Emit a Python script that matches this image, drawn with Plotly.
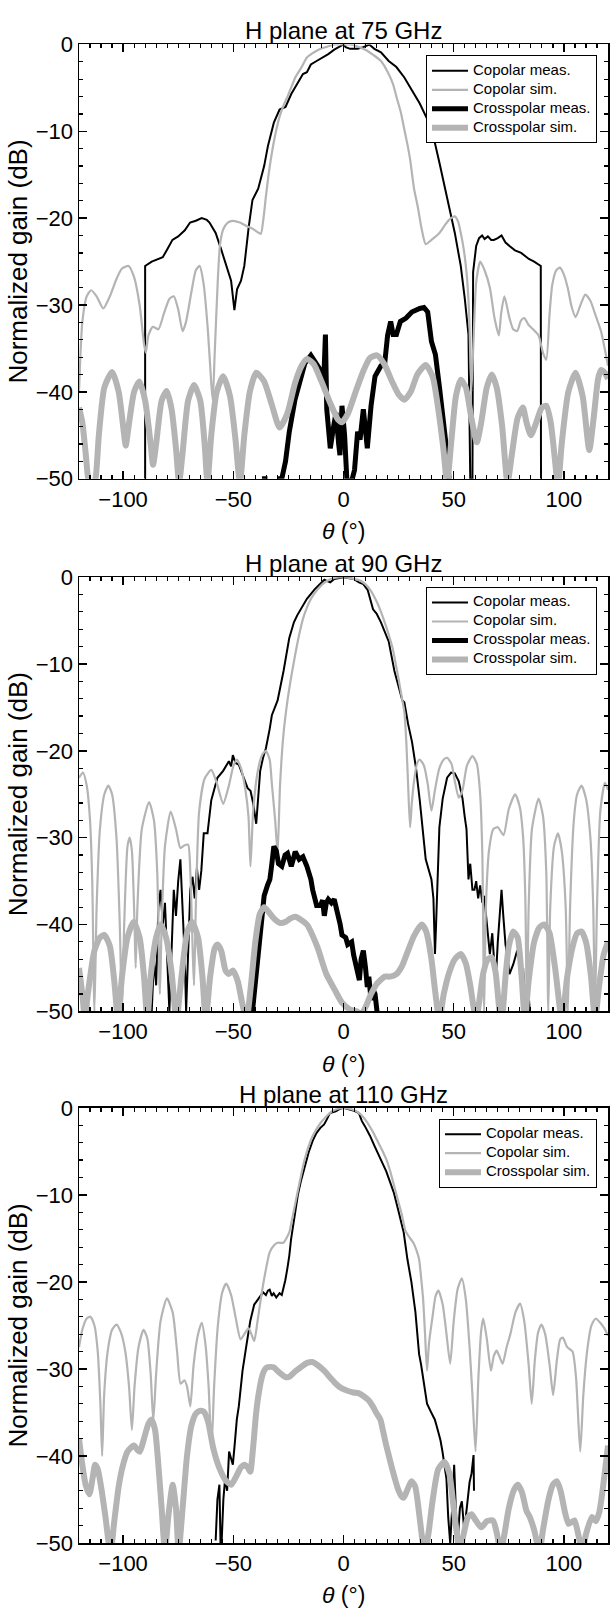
import plotly.graph_objects as go

# ---------------- data (theta in degrees, gain in dB) ----------------
# Panel 1 : H plane at 75 GHz
p1_copol_meas = [(-90,-50),(-90,-25.5),(-87,-25.0),(-84,-24.7),(-82,-24.5),(-80,-23.6),(-77.6,-22.5),(-75,-22.1),
    (-72,-21.4),(-69.6,-20.5),(-67,-20.3),(-64.3,-20.0),(-62,-20.2),(-60.8,-20.5),(-58,-21.7),(-55.5,-23.6),
    (-53,-25.6),(-51,-27.2),(-49.5,-30.6),(-48.3,-28.2),(-46.5,-27.2),(-45,-25.5),(-43,-21),(-41.3,-17.9),
    (-38.7,-16.6),(-36,-14),(-34.3,-11.7),(-31.6,-9),(-29,-7.5),(-26.3,-7.2),(-23.7,-5.7),(-21,-4.5),
    (-18.4,-3.4),(-16.6,-3.2),(-14.8,-2.3),(-12.2,-1.9),(-9.5,-1.5),(-6.9,-1.1),(-4.2,-0.6),(-1.6,-0.2),
    (0,0),(1,-0.3),(3,-0.5),(6.4,-0.5),(9,-0.3),(11.7,0),(14,-0.5),(17,-0.9),(20.5,-1.9),(24,-2.6),
    (27.6,-3.8),(31.1,-5.3),(34.6,-6.8),(38.2,-8.7),(40.8,-10.6),(43.5,-13.6),(46.1,-16.6),(48,-18.5),
    (50.5,-21.7),(53.2,-25.5),(55,-29.2),(56.7,-33.4),(57.5,-50),(58.5,-50),(58.8,-26.2),(60.2,-23.2),
    (61.5,-22.3),(62.9,-22),(64,-22.4),(65.5,-22.1),(67,-22.5),(68.2,-22.5),(70,-22.3),(71.7,-22),
    (73.5,-22.8),(75.3,-23.2),(77.8,-23.7),(80.6,-24),(82.5,-24.4),(84.1,-24.7),(86.5,-25),(88.5,-25.3),
    (89.5,-25.5),(89.6,-50)]
p1_copol_sim = [(-120,-40),(-118.5,-32),(-116.5,-29),(-114.5,-28.3),(-112,-29),(-109,-30.4),(-106,-29),
    (-103,-27),(-100.5,-25.8),(-97.5,-25.5),(-95,-26.8),(-92.5,-30),(-90.5,-34.5),(-89.7,-35.5),(-88.5,-33.5),
    (-86.5,-32.5),(-84,-32.8),(-81.5,-31),(-79,-29.3),(-77,-29),(-75,-30.5),(-73,-33),(-71.5,-32),(-69,-28.5),
    (-67,-26),(-65.3,-25.5),(-63.5,-27.5),(-61.5,-33),(-60,-39),(-59.3,-41),(-58.5,-36),(-57,-27),(-56,-23),
    (-54.6,-21.3),(-52.5,-20.5),(-50.2,-20.3),(-47,-20.5),(-44,-20.9),(-41.3,-21.2),(-39,-21.6),(-37.5,-21.8),
    (-36.3,-20),(-35.2,-17.5),(-34,-15),(-32.5,-12.5),(-30.8,-10.2),(-29,-8.3),(-27,-6.9),(-25.4,-6),
    (-23.5,-4.8),(-21.9,-3.8),(-19,-2.6),(-16.6,-1.5),(-14,-1.0),(-11.3,-0.6),(-8,-0.3),(-4.2,0),(0,0),
    (2.8,0),(6,-0.2),(9.9,-0.6),(13.5,-1.2),(17,-1.9),(20.5,-3.4),(22.5,-4.6),(24,-6),(26,-7.8),(27.6,-9.8),
    (29,-11.5),(30.2,-13.2),(32,-16.6),(33.7,-18.7),(35.5,-21.3),(37.3,-23),(39.9,-22.5),(43.5,-21.7),
    (46,-20.8),(47.9,-20.2),(50.5,-19.8),(52,-20.4),(53.2,-21.7),(54.5,-23.5),(55.8,-26.2),(57,-31),
    (58,-40),(59,-34),(60.2,-27.4),(62,-25),(64,-26),(66.4,-28),(68.5,-31.5),(70.5,-33.5),(71.5,-31),
    (73,-29),(75.3,-31.5),(77,-32.8),(78.8,-33),(80.5,-31.8),(82,-31.5),(84,-32.3),(86,-32.8),(88.5,-33.5),
    (90.5,-35.5),(92,-36.3),(93.5,-31),(94.7,-27.7),(96.5,-26),(98.2,-25.7),(100,-26.5),(101.8,-28.1),
    (103.5,-30.2),(105.3,-31.4),(107.5,-30),(109.7,-28.8),(112,-29.5),(114.1,-31),(116.8,-33),(118.5,-35),
    (120,-37)]
p1_xpol_meas = [(-37,-50),(-34.5,-50),(None,None),(-30,-50),(-28,-50),(-26.3,-48),(-24.6,-44.6),(-22,-40.9),
    (-19.3,-38.2),(-17.5,-36.7),(-14.8,-35.8),(-12.2,-36.7),(-10.4,-37.5),(-9,-39),(-8.2,-33.4),(-7.6,-42),
    (-6,-46.5),(-4.5,-44),(-3.4,-42.4),(-2.2,-46),(-1.6,-47.3),(-0.7,-41.6),(0.5,-45),(1.5,-50),(2.5,-50.5),
    (4,-50),(5,-49),(6.4,-44.6),(7.5,-45.5),(9,-42),(10.8,-46.5),(12.5,-41.6),(14.3,-38.2),(17,-37),
    (18.7,-36.7),(20,-33.5),(21.4,-31.9),(22.5,-33.4),(24,-33.4),(25.8,-31.9),(28.4,-31.5),(31,-30.8),
    (33,-30.5),(34.6,-30.4),(36.5,-30.3),(38.2,-30.8),(39.9,-34.2),(41.7,-35.7),(43.5,-39.4),(45.2,-42.8),
    (46.5,-46),(47.9,-50)]
p1_xpol_sim = [(-120,-41.8),(-118.5,-43.5),(-117,-47),(-115.5,-50.5),(-114,-51),(-112.5,-50),(-111,-45),
    (-108.5,-39.5),(-105,-37.7),(-102,-40),(-99.5,-45),(-98.8,-46.2),(-97.5,-44),(-95,-40),(-92.6,-38.8),
    (-90,-41),(-87.5,-46),(-86.4,-48.4),(-85,-46),(-82.5,-41),(-80.2,-39.9),(-78,-42),(-76,-46.5),
    (-74.6,-50.5),(-73,-47),(-70.5,-41),(-67.8,-39.2),(-65,-41),(-63,-46),(-61.7,-50.5),(-60,-45),
    (-57.5,-40),(-54.6,-38.2),(-51.5,-40.5),(-49,-45.5),(-47,-50.5),(-45,-45),(-42.5,-40),(-39.6,-37.8),
    (-36,-38.8),(-32.5,-41.5),(-29,-44.1),(-25.5,-42.5),(-22,-39),(-19,-37),(-16.6,-36.2),(-13.5,-36.8),
    (-10,-38.8),(-6,-41.3),(-2.5,-43.2),(-0.7,-43.5),(2,-42.5),(5.5,-40),(9,-37.6),(12,-36.1),(15.2,-35.8),
    (18.5,-36.8),(22,-38.8),(25,-40.3),(27.6,-40.9),(30.5,-40),(33.5,-38),(37.3,-36.9),(40.5,-38.3),
    (43,-42),(45.3,-46.5),(47,-50.5),(48.8,-46),(51,-40.5),(53.2,-38.6),(55.5,-39.5),(58,-43),(60.5,-45.8),
    (62.5,-43.5),(65,-39.5),(67.3,-38),(69.5,-39.5),(72,-44),(74.4,-50.5),(76.5,-47),(79,-43),(81.4,-41.8),
    (83,-43.5),(85,-45),(87.5,-43.5),(90,-41.8),(92,-41.6),(94,-43.5),(96,-48),(97.3,-51),(99,-46),
    (102,-40),(105.3,-37.8),(108.5,-40.5),(111.5,-46.7),(113.5,-43),(115.5,-38.5),(116.8,-37.5),
    (118.5,-37.8),(120,-38.5)]

# Panel 2 : H plane at 90 GHz
p2_copol_meas = [(-87,-50),(-86,-44),(-85,-47),(-84,-38),(-83,-36),(-82,-40),(-81,-37.5),(-80,-45),(-79,-50),
    (-78,-43),(-77,-36),(-76,-39),(-75,-35),(-74,-32.5),(-73,-38),(-72,-44),(-71.4,-50),(-70.5,-42),
    (-69.5,-36),(-68.5,-34.5),(-67.5,-37),(-66.5,-33.5),(-65.5,-36),(-64.5,-33.8),(-63.4,-29.5),
    (-61.7,-29.5),(-60,-25.7),(-57.2,-23.1),(-54.6,-22.3),(-52,-21.2),(-51,-21.8),(-50.2,-20.5),(-49,-21.4),
    (-47.5,-21.6),(-44.9,-23.5),(-43.5,-24.3),(-42.2,-24.6),(-41,-26),(-39.6,-28.4),(-38.5,-25),
    (-37.8,-22.3),(-36.5,-20.8),(-35.2,-19.7),(-33.5,-17.5),(-32.5,-15.9),(-29.9,-14.2),(-27.2,-10.8),
    (-24.6,-7),(-22.5,-5.2),(-21,-4.4),(-18.5,-3.4),(-16.6,-2.5),(-13.1,-1.4),(-10.5,-0.8),(-8.7,-0.3),
    (-6,-0.6),(-4.2,-0.2),(0,0),(4.6,-0.2),(7,-0.6),(9,-0.8),(11,-1.5),(13.4,-3.7),(15,-4.2),(17,-5.2),
    (20.5,-7.4),(23.1,-10.8),(26.7,-14.2),(27.6,-14.4),(29.3,-16.9),(31.1,-19),(32.9,-22),(34.6,-25.7),
    (37.3,-32.5),(39.9,-34.8),(40.8,-37),(41.5,-43.4),(42,-40),(43.5,-28.8),(45,-25.5),(47,-23.1),
    (48.8,-22.5),(50.5,-22.6),(52.3,-23.5),(54,-25.5),(55,-27.6),(55.8,-29),(56.7,-34.8),(57.5,-33),
    (58.5,-36),(59.4,-36),(60.2,-35),(61.1,-37),(62,-35.5),(63,-37.5),(63.8,-36.7),(65,-40),(66.4,-43.4),
    (67.5,-41),(68.2,-44),(69,-46.8),(70,-42),(71,-38),(71.7,-36),(72.5,-39),(73.5,-42.3),(74.5,-44),
    (75.3,-45.7),(77,-44.6),(78.8,-43),(79.7,-44),(80.6,-47.2),(81.5,-45),(82.3,-50),(83.5,-46),(84.5,-50)]
p2_copol_sim = [(-120,-23.1),(-118.2,-22.5),(-116.5,-24),(-115,-28),(-114,-35),(-113,-50),(-112,-38),
    (-110.5,-29),(-108.5,-25),(-106.7,-24),(-105,-25),(-103,-30),(-101.5,-40),(-100.5,-50),(-99.5,-40),
    (-98,-31),(-97,-30),(-96,-31.5),(-94.8,-40),(-94.3,-45),(-93.5,-38),(-91.5,-29),(-88.2,-25.9),(-86,-28),
    (-84.5,-34),(-83.3,-48),(-82.5,-40),(-81,-31),(-78.4,-27),(-76,-29),(-74,-31.2),(-72.3,-30.9),
    (-70.5,-30.8),(-69.5,-34),(-68.3,-44),(-67.8,-47),(-67,-38),(-65.5,-27),(-63,-23.2),(-60,-22.2),
    (-57.5,-23.7),(-54.6,-26.1),(-52,-24),(-50,-21.8),(-48.4,-21),(-46.5,-22),(-44.5,-24.5),(-43.1,-27.6),
    (-42.2,-33.3),(-41,-27),(-39,-22.5),(-37,-20.5),(-35.2,-20),(-33.5,-21),(-32.5,-23.8),(-31,-28),
    (-29.9,-31.8),(-28.8,-24),(-27.2,-18),(-25.4,-14.2),(-23.6,-11.3),(-21.9,-8.9),(-20,-6.5),(-18.4,-4.8),
    (-16.6,-3.5),(-14.8,-2.5),(-12,-1.5),(-9.5,-0.8),(-6.5,-0.3),(-4.2,-0.1),(0,0),(4.6,-0.2),(7.5,-0.4),
    (9.9,-0.8),(12.5,-1.6),(15.2,-2.9),(17,-4),(18.7,-5.2),(20.5,-6.6),(22.3,-8.2),(23.7,-10),(24.9,-11.6),
    (26.7,-14.2),(27.6,-15.5),(28.5,-19),(29.3,-23.8),(30.2,-28.8),(31,-26),(32,-23.5),(33.3,-21.5),
    (34.6,-21),(36.5,-21.7),(38.2,-23.8),(39.9,-26.9),(41.5,-24.5),(43.5,-22),(45.5,-21),(47,-20.8),
    (49,-21.5),(50.5,-23.5),(52.3,-25.4),(54,-24.5),(56,-21.7),(58.5,-20.6),(60.5,-21.5),(62,-25),(63,-32),
    (63.8,-50),(64.6,-38),(66,-31.5),(68,-29),(70,-28.8),(72.6,-29.7),(75,-26.7),(77.9,-25),(80,-26.5),
    (81.5,-30),(82.5,-37),(83.2,-50),(84,-38),(85.5,-29),(88.5,-25.5),(90.5,-27.5),(92,-34),(92.9,-50),
    (93.8,-38),(95.5,-31),(97.3,-29.5),(99,-31.5),(100.8,-38),(101.8,-50),(102.8,-38),(104.5,-28),
    (106,-25),(108,-24),(110,-25.5),(112,-30),(113.3,-38),(114.1,-50),(115,-38),(116.5,-27),(118.6,-23.7),
    (120,-24.5)]
p2_xpol_meas = [(-41.3,-50),(-40,-46.5),(-38.7,-43.8),(-37.2,-40),(-36,-36.7),(-34.5,-35.5),(-33.4,-34.8),
    (-32.5,-33),(-31.6,-31),(-30.5,-31.5),(-29.5,-33),(-28,-33.3),(-26.5,-32),(-25.4,-31.8),(-24.5,-33),
    (-23.7,-33.3),(-22.8,-32.5),(-21.9,-31.6),(-20.1,-32.5),(-18.4,-32.2),(-16.6,-33.3),(-14.8,-34.8),
    (-14,-36),(-12.2,-37.8),(-10.4,-37.8),(-9.5,-37.2),(-8.7,-39),(-7.8,-37.5),(-6.9,-37.1),(-5.5,-37.5),
    (-4.2,-37.1),(-3.3,-38),(-2.5,-39.3),(-1.5,-40),(-0.7,-41.2),(1,-41.5),(1.9,-42.3),(3.7,-42),
    (4.6,-43.5),(5.5,-44.6),(6.4,-45),(7.2,-46.4),(8,-44),(9,-43),(10,-45),(10.8,-47.2),(11.5,-46),
    (12.5,-48.7),(13.4,-47.5),(14.3,-48),(15.2,-50),(16.1,-50.5)]
p2_xpol_sim = [(-120,-45),(-118.5,-48),(-117.3,-51),(-116,-48),(-113,-43),(-110.5,-41.5),(-108.5,-41.2),
    (-106,-42.5),(-104,-46.5),(-102.3,-51),(-100.5,-46),(-98,-41.5),(-95.2,-39.7),(-92.5,-41.5),(-90.5,-46),
    (-89,-51),(-87.5,-46),(-85,-41.5),(-82.9,-40),(-80.5,-41.5),(-78,-45.5),(-75.8,-51),(-73.5,-46),
    (-71,-41),(-68.7,-39.7),(-66,-41.5),(-64,-46),(-62.5,-51),(-60.5,-46),(-58.5,-42.8),(-57.2,-42.3),
    (-55.5,-43),(-53.5,-45.3),(-52,-45.7),(-50.2,-45.3),(-48,-46.5),(-46,-49),(-44,-51),(-42,-47),(-40,-42),
    (-38,-38.8),(-36,-38),(-33.5,-38.7),(-31.6,-39.3),(-29,-39.8),(-26.3,-39.7),(-24,-39.3),(-21.9,-39.1),
    (-19,-39.5),(-16.6,-40),(-12,-42.5),(-7.8,-45.7),(-4,-47.5),(-0.7,-49),(3,-49.8),(6,-50),(8.1,-50.3),
    (10,-49.5),(12.5,-48),(15.2,-46.8),(18.7,-46),(21,-46),(24,-45.7),(26.5,-44.8),(29.3,-43),(32,-41.3),
    (35.5,-40),(37.5,-40.8),(39.9,-44),(41.5,-47.5),(43.5,-51),(45.5,-48),(48,-45.5),(50.5,-44),
    (53.2,-43.4),(55.5,-44.5),(57.5,-47),(59,-49.5),(60.2,-51),(61.5,-49),(63.5,-45.5),(65.5,-44),
    (67.3,-43.8),(69,-45.5),(70.8,-50),(71.8,-51),(73.5,-46),(75,-42.5),(77,-40.8),(79,-41.5),(80.8,-46),
    (82.3,-51),(84,-46.5),(86.5,-42),(89,-40.3),(91.2,-40),(93.5,-41),(96,-45),(99.1,-51),(101.5,-46),
    (104,-42.5),(106,-41),(108,-40.8),(110,-42),(112.3,-46),(114.1,-51),(116,-47),(118,-43.5),(120,-42)]

# Panel 3 : H plane at 110 GHz
p3_copol_meas = [(-58,-49.7),(-57.2,-45),(-56.3,-43.3),(-55.8,-50),(-55.3,-50),(-54.5,-45),(-53.7,-42.6),
    (-52.8,-44),(-51.9,-39.5),(-51,-40.5),(-50.2,-41),(-49.3,-38.5),(-48.4,-35.8),(-47.5,-34.3),
    (-45.8,-30.2),(-44,-27.2),(-42.3,-24.5),(-40.5,-22.6),(-39,-22),(-37.9,-21.7),(-36.5,-21.2),
    (-35.2,-21.5),(-34.3,-21),(-33.5,-20.9),(-32.5,-21.6),(-31.7,-21.3),(-30.5,-21.8),(-29,-21.3),
    (-28,-21.5),(-27.3,-20.8),(-26.4,-19.8),(-25.5,-18.5),(-24.6,-17),(-23.8,-15.1),(-22,-11.9),
    (-20.7,-10),(-19.4,-8.5),(-17.6,-6.7),(-15.8,-5.1),(-14,-3.8),(-12.3,-2.9),(-10.5,-2.3),(-8.8,-1.9),
    (-7.5,-1.3),(-6.2,-0.6),(-3.5,-0.4),(-1.5,-0.1),(0,0),(2,-0.1),(4.4,-0.3),(7,-0.6),(8.3,-1.5),
    (9.7,-2.1),(12,-3.2),(14.1,-4.4),(15.8,-5.3),(17.6,-6.3),(19.4,-7.3),(21.1,-8.5),(22.9,-9.8),
    (24.6,-11.5),(26.4,-13.4),(27.3,-14.3),(29,-17.4),(30.8,-20),(32.6,-23.4),(33.5,-26),(34.3,-28.3),
    (35.2,-29.5),(36.1,-30.9),(37,-32.5),(37.9,-34),(39.6,-34.9),(41.4,-35.8),(42.2,-36.5),(43.1,-37.3),
    (44,-38.2),(44.9,-39.5),(45.8,-41),(46.7,-42.6),(47.5,-47),(48.4,-50),(49.3,-46),(50.2,-41),(50.8,-45),
    (51.2,-50),(52,-49),(52.8,-46),(53.7,-45.2),(54.6,-48),(55.5,-47),(56.3,-45),(57.2,-43),(58.1,-42),
    (59,-39.9),(59.2,-44)]
p3_copol_sim = [(-120,-27.5),(-118.5,-25.5),(-116.5,-24.2),(-114.8,-24),(-113,-25),(-111.5,-28),
    (-110.3,-34),(-109.5,-40),(-108.6,-33),(-107,-28),(-105,-25.5),(-103,-24.9),(-101,-25.8),(-99,-28),
    (-97.3,-32),(-96,-37),(-94.8,-32),(-93,-27.5),(-90.7,-25.5),(-89,-26.5),(-87.5,-30.5),(-86.3,-36),
    (-85,-30.5),(-83,-24.5),(-80.1,-21.9),(-77.5,-23.5),(-75.5,-28),(-73.9,-31.7),(-72.2,-31.3),(-71,-32),
    (-69.5,-34.3),(-68,-29.5),(-66,-26),(-64.3,-24.7),(-62.7,-27),(-61.2,-32),(-59.9,-39.2),(-58.7,-32),
    (-57,-25),(-55,-21.2),(-53.2,-20.2),(-51,-21.5),(-49,-24),(-46.7,-26.6),(-45,-26),(-43.1,-25.3),
    (-41.8,-26),(-40.5,-26.8),(-39,-24.5),(-37,-21.1),(-35,-18.3),(-33.5,-16.6),(-31.5,-15.8),(-29.9,-15.5),
    (-27.3,-15.5),(-24.6,-14.3),(-23.8,-13.4),(-21.1,-10),(-17.6,-5.9),(-14.1,-3.3),(-10.6,-1.8),
    (-7.5,-0.9),(-5.3,-0.4),(-2.5,-0.1),(0,0),(2.5,-0.1),(5.3,-0.3),(8,-0.8),(10.6,-1.6),(13.2,-2.7),
    (15.8,-4),(17.6,-4.9),(19.4,-5.9),(21.2,-7.3),(22.9,-8.9),(24.6,-10.5),(26.4,-12.2),(28.2,-14.2),
    (30,-14.9),(31.7,-15.5),(33,-16.3),(34.3,-17.4),(35.2,-19.5),(36.1,-21.9),(37,-26),(37.9,-30.2),
    (38.8,-27),(40.5,-23.8),(41.8,-21.6),(43.1,-21),(45,-22.6),(46.6,-25.7),(48.4,-29.4),(50,-24.5),
    (51.8,-20.8),(53.7,-19.6),(55.5,-22),(57.2,-27.5),(58.5,-33),(59.9,-39.5),(61.2,-31),(62.5,-25.5),
    (63.4,-24.2),(65,-26.5),(66.9,-30.2),(68.2,-28.5),(69.5,-27.9),(70.8,-28.6),(72.2,-29.4),(74,-27.5),
    (75.7,-26),(78,-23.5),(80.1,-22.5),(82,-24.5),(84,-29.5),(85.4,-34),(86.8,-29),(88.3,-25.8),
    (89.8,-24.9),(91.5,-26),(93.5,-29.5),(95.1,-33),(96.8,-29),(98.3,-26.6),(99.5,-26.4),(101.5,-27.5),
    (103.9,-28),(105.5,-31),(107.4,-39.5),(108.8,-33),(110.5,-28),(112.5,-25),(114.4,-24.2),(116.5,-24.7),
    (118.5,-25.4),(120,-26.2)]
p3_xpol_sim = [(-120,-38),(-118.5,-41),(-117,-43.3),(-115.3,-44.4),(-113.8,-42.5),(-112.7,-41),
    (-111.5,-41.5),(-110,-43.5),(-108,-47),(-106.5,-50),(-105.6,-51),(-104,-47.5),(-102,-43.5),
    (-100.4,-41.4),(-98,-39.5),(-95.1,-38.8),(-93.5,-39.3),(-92.4,-39.5),(-90.5,-38),(-88.5,-36.3),
    (-87.1,-35.8),(-85.5,-37),(-84,-41),(-82.5,-46),(-81,-51),(-79.5,-47),(-77.5,-43.3),(-76,-46),
    (-74.8,-51),(-73,-46),(-71,-40),(-69,-36.5),(-66.9,-35.1),(-65,-34.8),(-63.4,-34.9),(-61.5,-36),
    (-59,-39.2),(-56.3,-41.4),(-53.5,-42.8),(-51,-43.3),(-49,-42.5),(-46.5,-41.3),(-44.9,-41),(-43.5,-41.3),
    (-42.3,-41.8),(-41,-39),(-39.8,-35.5),(-38.7,-33.2),(-37,-30.9),(-35.5,-30),(-34.3,-29.8),(-31.7,-29.8),
    (-30,-30.2),(-28.2,-30.6),(-26.5,-30.9),(-24.6,-30.9),(-22,-30.3),(-19.4,-29.8),(-16.5,-29.3),
    (-14.1,-29.2),(-11.5,-29.6),(-8.8,-30.2),(-6,-31),(-3.5,-31.7),(-1,-32.2),(1.8,-32.5),(4.5,-32.7),
    (7,-32.8),(9,-33.1),(11.4,-33.6),(13.3,-34.3),(15,-35.1),(16.7,-35.8),(18,-37.2),(19.4,-38.8),
    (20.8,-40.2),(22,-41.4),(23.3,-42.6),(24.6,-43.7),(26,-44.5),(27.3,-44.8),(28.8,-44),(30.8,-42.9),
    (32.5,-43.5),(34.5,-47),(36,-50),(37,-51),(38.5,-49),(40.5,-45),(43,-41.5),(45.8,-40.7),(48,-42),
    (50,-46),(52,-50),(52.8,-51),(54.5,-49),(56.5,-47),(58.1,-46.7),(60,-47.4),(62.5,-48.2),(65,-47.5),
    (67.8,-47.4),(69.5,-48.8),(71.3,-51),(73,-49),(75,-46),(77.5,-43.8),(79.2,-43.3),(81,-44.2),(83,-46.3),
    (84.5,-47),(86.5,-48.5),(88.9,-51),(90.5,-48.5),(93,-45),(95,-43.3),(96.8,-42.9),(98.5,-44),
    (100.5,-46.5),(102.1,-47.8),(103.5,-47.6),(104.8,-47.4),(106.5,-49),(108.3,-51),(110,-49),(112.7,-47),
    (114.5,-47.5),(116,-46.5),(117.1,-44.8),(118.5,-42),(120,-38.8)]

panel_titles = ["H plane at 75 GHz", "H plane at 90 GHz", "H plane at 110 GHz"]
x_tick_vals = [-100, -50, 0, 50, 100]
y_tick_vals = [-50, -40, -30, -20, -10, 0]

panels = [
    [("Copolar meas.", p1_copol_meas), ("Copolar sim.", p1_copol_sim),
     ("Crosspolar meas.", p1_xpol_meas), ("Crosspolar sim.", p1_xpol_sim)],
    [("Copolar meas.", p2_copol_meas), ("Copolar sim.", p2_copol_sim),
     ("Crosspolar meas.", p2_xpol_meas), ("Crosspolar sim.", p2_xpol_sim)],
    [("Copolar meas.", p3_copol_meas), ("Copolar sim.", p3_copol_sim),
     ("Crosspolar sim.", p3_xpol_sim)],
]

# ---------------- styling ----------------
W, H = 610, 1622
FONT = "Liberation Sans, Arial, sans-serif"
GREY = "#b4b4b4"
styles = {
    "Copolar meas.": dict(color="black", width=2, shape="linear"),
    "Copolar sim.": dict(color=GREY, width=2.2, shape="spline"),
    "Crosspolar meas.": dict(color="black", width=5, shape="linear"),
    "Crosspolar sim.": dict(color=GREY, width=6, shape="spline"),
}
X_LEFT, X_RIGHT = 79, 608
panel_px = [(33, 474), (574, 1015), (1113, 1555)]
legend_px = [(597, 44), (597, 584), (597, 1124)]

def py(v):
    return 1 - v / H

fig = go.Figure()
layout = dict(width=W, height=H, margin=dict(l=0, r=0, t=0, b=0),
              paper_bgcolor="white", plot_bgcolor="white",
              font=dict(family=FONT, color="black"), annotations=[])

for i, series in enumerate(panels):
    n = "" if i == 0 else str(i + 1)
    leg = "legend" if i == 0 else f"legend{i + 1}"
    for name, pts in series:
        st = styles[name]
        xs = [p[0] for p in pts]
        ys = [p[1] for p in pts]
        fig.add_trace(go.Scatter(
            x=xs, y=ys, mode="lines", legend=leg,
            name=f'<span style="font-size:15px">{name}</span>',
            xaxis="x" + n, yaxis="y" + n, connectgaps=False,
            line=dict(color=st["color"], width=st["width"], shape=st["shape"],
                      smoothing=0.6 if st["shape"] == "spline" else None),
        ))
    top, bot = panel_px[i]
    common = dict(showline=True, linecolor="black", linewidth=1.5, mirror="allticks",
                  ticks="inside", ticklen=8, tickwidth=1.5, tickcolor="black",
                  showgrid=False, zeroline=False, tickfont=dict(size=22, family=FONT))
    layout["xaxis" + n] = dict(common, domain=[X_LEFT / W, X_RIGHT / W], anchor="y" + n,
                               range=[-120, 120], tickvals=x_tick_vals,
                               minor=dict(dtick=5, tick0=0, ticks="inside", ticklen=4,
                                          tickwidth=1.2, tickcolor="black", showgrid=False))
    layout["yaxis" + n] = dict(common, domain=[py(bot), py(top)], anchor="x" + n,
                               range=[-50, 0], tickvals=y_tick_vals,
                               minor=dict(dtick=2, tick0=0, ticks="inside", ticklen=4,
                                          tickwidth=1.2, tickcolor="black", showgrid=False))
    lx, ly = legend_px[i]
    layout[leg] = dict(x=lx / W, xanchor="right", y=py(ly), yanchor="top",
                       bgcolor="white", bordercolor="black", borderwidth=1,
                       font=dict(size=10, family=FONT, color="black"),
                       tracegroupgap=0, itemwidth=36)
    xc = (X_LEFT + X_RIGHT) / 2 / W
    layout["annotations"] += [
        dict(text=panel_titles[i], x=xc, y=py(top - 14), xref="paper", yref="paper",
             xanchor="center", yanchor="middle", showarrow=False, font=dict(size=24)),
        dict(text="<i>θ</i> (°)", x=xc, y=py(bot + 53), xref="paper", yref="paper",
             xanchor="center", yanchor="middle", showarrow=False, font=dict(size=23)),
        dict(text="Normalized gain (dB)", x=18 / W, y=py((top + bot) / 2), xref="paper",
             yref="paper", xanchor="center", yanchor="middle", textangle=-90,
             showarrow=False, font=dict(size=26)),
    ]

fig.update_layout(**layout)
fig.write_html("out.html",
               config={"displayModeBar": False, "staticPlot": True},
               post_script="document.body.style.margin='0';"
                           "document.body.style.overflow='hidden';"
                           "document.documentElement.style.overflow='hidden';")
